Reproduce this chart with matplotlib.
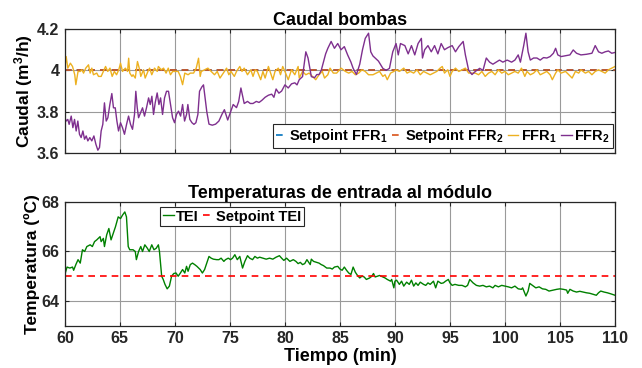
import matplotlib
matplotlib.use("Agg")
from matplotlib import pyplot as plt

plt.rcParams["font.family"] = ["Liberation Sans", "DejaVu Sans"]
plt.rcParams["font.weight"] = "bold"
plt.rcParams["mathtext.fontset"] = "custom"
plt.rcParams["mathtext.rm"] = "Liberation Sans:bold"
plt.rcParams["mathtext.bf"] = "Liberation Sans:bold"
plt.rcParams["mathtext.default"] = "bf"

# --- caudal bombas (m3/h) ---
t_ffr1 = [60.0, 60.12, 60.27, 60.5, 60.7, 60.9, 61.0, 61.2, 61.4, 61.55, 61.7, 61.9, 62.15, 62.3, 62.45,
          62.6, 62.9, 63.06, 63.3, 63.5, 63.7, 63.9, 64.1, 64.3, 64.5, 64.7, 64.9, 65.06, 65.24, 65.5,
          65.7, 65.8, 65.9, 66.1, 66.2, 66.4, 66.6, 66.8, 66.9, 67.15, 67.3, 67.55, 67.7, 67.9, 68.15,
          68.4, 68.5, 68.76, 68.97, 69.2, 69.4, 69.6, 69.8, 70.0, 70.3, 70.5, 70.7, 70.9, 71.2, 71.4,
          71.7, 71.94, 72.15, 72.3, 72.4, 72.7, 73.0, 73.3, 73.6, 73.85, 74.1, 74.4, 74.7, 74.9, 75.1,
          75.4, 75.6, 75.9, 76.1, 76.3, 76.6, 76.9, 77.1, 77.3, 77.5, 77.8, 78.0, 78.2, 78.5, 78.7,
          78.9, 79.1, 79.4, 79.6, 79.8, 80.0, 80.3, 80.6, 80.9, 81.2, 81.3, 81.6, 81.9, 82.2, 82.5,
          82.8, 83.1, 83.4, 83.6, 83.9, 84.1, 84.4, 84.7, 85.1, 85.5, 85.8, 86.1, 86.4, 86.7, 87.0,
          87.3, 87.6, 88.0, 88.3, 88.6, 88.9, 89.1, 89.3, 89.6, 89.9, 90.1, 90.4, 90.8, 91.1, 91.4,
          91.7, 92.0, 92.3, 92.6, 92.9, 93.2, 93.5, 93.8, 94.1, 94.3, 94.5, 94.8, 95.0, 95.2, 95.5,
          95.8, 96.1, 96.4, 96.7, 97.0, 97.3, 97.6, 97.9, 98.2, 98.5, 98.8, 99.1, 99.4, 99.7, 100.0,
          100.3, 100.6, 100.9, 101.2, 101.5, 101.8, 102.0, 102.3, 102.6, 102.9, 103.2, 103.5, 103.8, 104.1, 104.3,
          104.6, 104.8, 105.1, 105.5, 105.8, 106.1, 106.4, 106.7, 106.9, 107.3, 107.6, 107.9, 108.2, 108.5, 108.8,
          109.1, 109.4, 109.7, 110.0]
ffr1 = [4.011, 4.067, 4.011, 4.035, 4.019, 3.979, 3.931, 3.995, 3.995, 4.003, 3.987, 4.011, 4.027, 3.987, 4.011,
        3.979, 3.987, 3.971, 3.971, 3.995, 4.019, 3.995, 4.011, 3.971, 3.995, 3.979, 4.003, 4.035, 3.995, 4.011,
        3.995, 4.059, 3.987, 3.971, 3.979, 3.963, 4.043, 4.003, 3.971, 4.003, 3.963, 3.995, 4.011, 3.979, 4.011,
        3.995, 4.019, 4.003, 4.011, 3.987, 4.011, 3.979, 3.995, 3.995, 3.995, 3.971, 3.931, 3.987, 3.979, 3.987,
        3.987, 4.011, 4.059, 3.971, 3.995, 4.003, 4.011, 3.995, 3.979, 3.995, 3.963, 3.987, 4.011, 3.979, 3.995,
        3.971, 3.995, 4.019, 3.995, 4.011, 3.979, 4.003, 3.971, 4.003, 3.995, 3.955, 3.995, 3.963, 4.019, 3.987,
        3.955, 3.995, 4.011, 3.979, 4.019, 3.995, 3.955, 4.003, 3.979, 4.019, 3.963, 3.995, 3.979, 3.987, 3.971,
        3.955, 3.979, 3.995, 3.963, 3.979, 4.011, 3.987, 3.987, 4.011, 3.995, 3.987, 3.995, 3.979, 3.987, 4.003,
        3.995, 3.979, 3.979, 3.987, 3.995, 3.971, 3.979, 3.955, 3.987, 3.995, 4.003, 3.995, 4.011, 3.987, 3.995,
        3.987, 4.003, 3.979, 3.995, 3.987, 3.979, 3.987, 3.995, 4.011, 4.019, 3.987, 4.003, 3.971, 3.995, 4.011,
        3.995, 4.003, 4.011, 3.987, 3.987, 3.987, 3.979, 3.995, 3.971, 3.987, 3.995, 3.979, 4.003, 3.987, 3.995,
        3.979, 3.987, 3.995, 3.987, 4.011, 3.971, 3.995, 3.979, 3.987, 4.003, 3.979, 3.987, 3.995, 3.979, 3.955,
        3.987, 4.003, 3.987, 3.995, 3.979, 3.963, 3.995, 3.987, 4.003, 3.987, 3.995, 3.979, 3.995, 4.003, 3.995,
        3.987, 4.003, 4.011, 4.019]

t_ffr2 = [60.0, 60.12, 60.27, 60.39, 60.58, 60.73, 60.88, 61.03, 61.18, 61.33, 61.48, 61.64, 61.79, 61.94, 62.09,
          62.27, 62.45, 62.64, 62.82, 63.0, 63.15, 63.3, 63.45, 63.6, 63.76, 63.91, 64.09, 64.27, 64.42, 64.58,
          64.73, 64.88, 65.06, 65.24, 65.42, 65.61, 65.79, 65.97, 66.15, 66.33, 66.45, 66.58, 66.7, 66.88, 67.06,
          67.24, 67.42, 67.61, 67.76, 67.91, 68.06, 68.21, 68.39, 68.55, 68.7, 68.88, 69.06, 69.24, 69.42, 69.61,
          69.79, 69.97, 70.15, 70.33, 70.52, 70.7, 70.88, 71.06, 71.18, 71.36, 71.55, 71.73, 71.91, 72.09, 72.24,
          72.45, 72.6, 72.9, 73.1, 73.4, 73.7, 74.0, 74.3, 74.5, 74.8, 75.0, 75.3, 75.6, 75.8, 76.0,
          76.3, 76.6, 76.85, 77.1, 77.4, 77.65, 77.9, 78.2, 78.5, 78.8, 79.0, 79.2, 79.45, 79.7, 80.0,
          80.3, 80.6, 80.9, 81.1, 81.3, 81.6, 81.9, 82.1, 82.4, 82.7, 82.9, 83.1, 83.3, 83.5, 83.7,
          83.9, 84.2, 84.5, 84.8, 85.1, 85.4, 85.7, 86.0, 86.2, 86.4, 86.5, 86.8, 87.05, 87.3, 87.6,
          87.8, 88.0, 88.5, 88.9, 89.2, 89.5, 89.8, 90.1, 90.3, 90.5, 90.9, 91.2, 91.5, 91.8, 92.1,
          92.4, 92.5, 92.7, 93.0, 93.3, 93.6, 93.9, 94.2, 94.5, 94.8, 95.2, 95.5, 95.8, 96.2, 96.4,
          96.7, 97.0, 97.3, 97.7, 98.0, 98.3, 98.6, 98.9, 99.2, 99.5, 99.8, 100.2, 100.6, 100.9, 101.2,
          101.4, 101.7, 101.9, 102.1, 102.3, 102.6, 102.9, 103.2, 103.5, 103.8, 104.1, 104.4, 104.6, 104.8, 105.1,
          105.6, 105.9, 106.2, 106.5, 106.9, 107.4, 107.9, 108.2, 108.5, 108.8, 109.1, 109.4, 109.7, 110.0]
ffr2 = [3.771, 3.755, 3.763, 3.739, 3.779, 3.723, 3.763, 3.707, 3.755, 3.691, 3.675, 3.707, 3.667, 3.683, 3.659,
        3.675, 3.659, 3.683, 3.643, 3.614, 3.627, 3.707, 3.739, 3.843, 3.755, 3.771, 3.835, 3.888, 3.819, 3.819,
        3.755, 3.707, 3.747, 3.723, 3.691, 3.739, 3.779, 3.739, 3.715, 3.787, 3.899, 3.819, 3.771, 3.795, 3.819,
        3.779, 3.819, 3.867, 3.835, 3.875, 3.787, 3.843, 3.891, 3.835, 3.867, 3.787, 3.867, 3.899, 3.899, 3.835,
        3.771, 3.747, 3.787, 3.803, 3.779, 3.835, 3.755, 3.787, 3.835, 3.763, 3.747, 3.739, 3.747, 3.787, 3.899,
        3.92, 3.93, 3.80, 3.74, 3.735, 3.74, 3.755, 3.79, 3.81, 3.76, 3.79, 3.835, 3.82, 3.85, 3.915,
        3.84, 3.85, 3.84, 3.84, 3.85, 3.845, 3.855, 3.87, 3.88, 3.885, 3.87, 3.91, 3.89, 3.90, 3.93,
        3.915, 3.935, 3.94, 3.93, 3.955, 3.97, 4.09, 4.06, 3.97, 3.965, 3.98, 3.98, 4.00, 4.04, 4.08,
        4.107, 4.14, 4.107, 4.13, 4.10, 4.115, 4.075, 4.04, 4.01, 3.99, 3.98, 4.03, 4.10, 4.155, 4.18,
        4.09, 4.07, 4.045, 4.01, 4.0, 4.01, 4.09, 4.13, 4.075, 4.13, 4.12, 4.08, 4.12, 4.075, 4.13,
        4.155, 4.06, 4.10, 4.12, 4.09, 4.12, 4.08, 4.13, 4.10, 4.11, 4.12, 4.09, 4.115, 4.14, 4.075,
        4.0, 3.98, 3.995, 4.01, 4.0, 4.06, 4.04, 4.03, 4.04, 4.05, 4.04, 4.05, 4.04, 4.05, 4.075,
        4.04, 4.12, 4.18, 4.09, 4.05, 4.06, 4.06, 4.05, 4.062, 4.06, 4.067, 4.083, 4.107, 4.075, 4.067,
        4.072, 4.075, 4.099, 4.083, 4.075, 4.078, 4.083, 4.12, 4.09, 4.083, 4.09, 4.094, 4.083, 4.087]

setpoint_ffr1 = 4.0
setpoint_ffr2 = 4.0

# --- temperatura entrada (C) ---
t_tei = [60.0, 60.2, 60.45, 60.7, 60.8, 61.0, 61.2, 61.4, 61.6, 61.8, 62.0, 62.3, 62.5, 62.7, 62.9,
         63.2, 63.3, 63.5, 63.6, 63.8, 64.0, 64.2, 64.45, 64.6, 64.85, 65.06, 65.24, 65.45, 65.6, 65.76,
         65.9, 66.2, 66.4, 66.5, 66.7, 66.9, 67.06, 67.27, 67.5, 67.67, 67.9, 68.1, 68.3, 68.5, 68.6,
         68.8, 68.94, 69.1, 69.3, 69.5, 69.7, 69.9, 70.1, 70.3, 70.5, 70.7, 70.9, 71.06, 71.2, 71.4,
         71.6, 71.8, 72.0, 72.3, 72.5, 72.7, 72.9, 73.1, 73.3, 73.5, 73.8, 74.0, 74.2, 74.45, 74.6,
         74.85, 75.06, 75.24, 75.45, 75.67, 75.9, 76.15, 76.36, 76.6, 76.8, 77.06, 77.27, 77.5, 77.7, 78.0,
         78.3, 78.6, 78.9, 79.2, 79.5, 79.7, 79.9, 80.15, 80.45, 80.76, 81.0, 81.2, 81.4, 81.6, 81.8,
         82.0, 82.3, 82.4, 82.6, 82.9, 83.1, 83.3, 83.5, 83.8, 84.1, 84.3, 84.5, 84.8, 85.0, 85.2,
         85.4, 85.6, 85.8, 86.0, 86.2, 86.4, 86.6, 86.8, 87.0, 87.2, 87.4, 87.7, 87.9, 88.05, 88.2,
         88.4, 88.6, 88.9, 89.1, 89.3, 89.6, 89.7, 89.9, 90.0, 90.15, 90.4, 90.6, 90.8, 91.06, 91.3,
         91.5, 91.7, 91.9, 92.1, 92.3, 92.6, 92.8, 93.0, 93.2, 93.5, 93.7, 93.9, 94.2, 94.4, 94.6,
         94.85, 95.0, 95.2, 95.45, 95.8, 96.1, 96.4, 96.6, 96.8, 97.1, 97.4, 97.7, 98.0, 98.3, 98.6,
         98.9, 99.1, 99.4, 99.7, 100.0, 100.3, 100.6, 100.9, 101.2, 101.5, 101.6, 101.9, 102.1, 102.25, 102.5,
         102.8, 103.1, 103.4, 103.7, 104.0, 104.4, 104.7, 105.0, 105.3, 105.6, 105.7, 105.9, 106.2, 106.5, 106.8,
         107.1, 107.4, 107.7, 108.0, 108.3, 108.5, 108.7, 109.0, 109.3, 109.6, 110.0]
tei = [65.07, 65.37, 65.33, 65.37, 65.24, 65.47, 65.67, 65.53, 66.07, 66.0, 66.2, 66.27, 66.2, 66.4, 66.47,
       66.6, 66.4, 66.53, 66.2, 66.67, 66.93, 66.47, 66.8, 67.0, 67.4, 67.33, 67.47, 67.6, 67.4, 66.2,
       66.07, 66.07, 66.0, 65.67, 66.0, 66.2, 66.0, 66.27, 66.13, 66.0, 66.27, 66.07, 66.13, 66.27, 66.0,
       65.0, 64.87, 64.67, 64.49, 64.6, 65.0, 65.11, 65.13, 65.0, 65.13, 65.27, 65.13, 65.4, 65.2, 65.47,
       65.53, 65.47, 65.4, 65.27, 65.13, 65.27, 65.53, 65.8, 65.73, 65.69, 65.67, 65.67, 65.73, 65.6, 65.67,
       65.73, 65.67, 65.73, 65.87, 65.67, 65.8, 65.33, 65.6, 65.83, 65.73, 65.67, 65.8, 65.73, 65.77, 65.73,
       65.69, 65.73, 65.69, 65.77, 65.83, 65.73, 65.64, 65.73, 65.6, 65.67, 65.6, 65.51, 65.56, 65.47, 65.51,
       65.67, 65.47, 65.69, 65.6, 65.56, 65.53, 65.47, 65.43, 65.33, 65.33, 65.29, 65.37, 65.4, 65.29, 65.24,
       65.37, 65.24, 65.13, 65.07, 65.37, 65.16, 65.03, 64.93, 65.0, 64.97, 64.87, 64.93, 65.0, 65.11, 64.97,
       65.0, 65.03, 64.97, 64.93, 64.87, 64.8, 64.87, 64.53, 64.8, 64.84, 64.67, 64.8, 64.6, 64.76, 64.67,
       64.84, 64.6, 64.73, 64.63, 64.76, 64.67, 64.63, 64.73, 64.67, 64.8, 64.53, 64.8, 64.71, 64.73, 64.8,
       64.87, 64.73, 64.63, 64.67, 64.63, 64.63, 64.57, 64.63, 64.87, 64.73, 64.63, 64.6, 64.63, 64.57, 64.6,
       64.53, 64.63, 64.57, 64.63, 64.6, 64.57, 64.53, 64.6, 64.49, 64.47, 64.53, 64.2, 64.4, 64.71, 64.63,
       64.53, 64.57, 64.49, 64.47, 64.4, 64.44, 64.47, 64.49, 64.47, 64.44, 64.31, 64.47, 64.4, 64.36, 64.39,
       64.36, 64.33, 64.31, 64.27, 64.23, 64.33, 64.4, 64.36, 64.33, 64.29, 64.23]
setpoint_tei = 65.0

x_ticks = [60, 65, 70, 75, 80, 85, 90, 95, 100, 105, 110]

fig = plt.figure(figsize=(6.42, 3.68), dpi=100)
ax1 = fig.add_axes([0.101, 0.584, 0.857, 0.337])
ax2 = fig.add_axes([0.101, 0.115, 0.857, 0.336])

dark = "#262626"
fs_tick = 11.5
fs_leg = 10.5
fs_lab = 12.5
fs_title = 13

ax1.plot([60, 110], [setpoint_ffr1] * 2, color="#0072BD", linestyle="--", dashes=(4, 3), lw=1.2,
         label="Setpoint FFR$_1$")
ax1.plot([60, 110], [setpoint_ffr2] * 2, color="#D95319", linestyle="--", dashes=(4, 3), lw=1.2,
         label="Setpoint FFR$_2$")
ax1.plot(t_ffr1, ffr1, color="#EDB120", lw=1.0, label="FFR$_1$")
ax1.plot(t_ffr2, ffr2, color="#7E2F8E", lw=1.0, label="FFR$_2$")
ax1.set_xlim(60, 110)
ax1.set_ylim(3.6, 4.2)
ax1.set_yticks([3.6, 3.8, 4.0, 4.2])
ax1.set_yticklabels(["3.6", "3.8", "4", "4.2"])
ax1.set_xticks(x_ticks)
ax1.set_xticklabels([])
ax1.set_title("Caudal bombas", fontsize=fs_title, fontweight="bold", pad=3)
ax1.set_ylabel("Caudal (m$^3$/h)", fontsize=fs_lab, fontweight="bold", labelpad=1)
leg1 = ax1.legend(loc="lower right", bbox_to_anchor=(0.996, 0.04), ncol=4, fontsize=fs_leg,
                  handlelength=0.75, handletextpad=0.15, columnspacing=0.3, borderpad=0.2,
                  borderaxespad=0, fancybox=False, framealpha=1, edgecolor=dark)

ax2.plot(t_tei, tei, color="#008000", lw=1.0, label="TEI")
ax2.plot([60, 110], [setpoint_tei] * 2, color="#FF0000", linestyle="--", dashes=(4, 3), lw=1.2,
         label="Setpoint TEI")
ax2.set_xlim(60, 110)
ax2.set_ylim(63, 68)
ax2.set_yticks([64, 66, 68])
ax2.set_xticks(x_ticks)
ax2.set_title("Temperaturas de entrada al módulo", fontsize=fs_title, fontweight="bold", pad=3)
ax2.set_ylabel("Temperatura (ºC)", fontsize=fs_lab, fontweight="bold", labelpad=1)
ax2.set_xlabel("Tiempo (min)", fontsize=fs_title, fontweight="bold", labelpad=1)
leg2 = ax2.legend(loc="upper left", bbox_to_anchor=(0.173, 0.963), ncol=2, fontsize=fs_leg,
                  handlelength=0.75, handletextpad=0.15, columnspacing=0.3, borderpad=0.2,
                  borderaxespad=0, fancybox=False, framealpha=1, edgecolor=dark)

for ax in (ax1, ax2):
    ax.grid(True, color="#9a9a9a", lw=0.8)
    ax.set_axisbelow(True)
    ax.tick_params(direction="in", length=3, top=True, right=True, colors=dark,
                   labelsize=fs_tick, width=0.8, pad=4)
    for lab in ax.get_xticklabels() + ax.get_yticklabels():
        lab.set_fontweight("bold")
    for sp in ax.spines.values():
        sp.set_color(dark)
        sp.set_linewidth(0.9)
for leg in (leg1, leg2):
    leg.get_frame().set_linewidth(0.8)
    for txt in leg.get_texts():
        txt.set_fontweight("bold")

fig.savefig("out.png", dpi=100)
